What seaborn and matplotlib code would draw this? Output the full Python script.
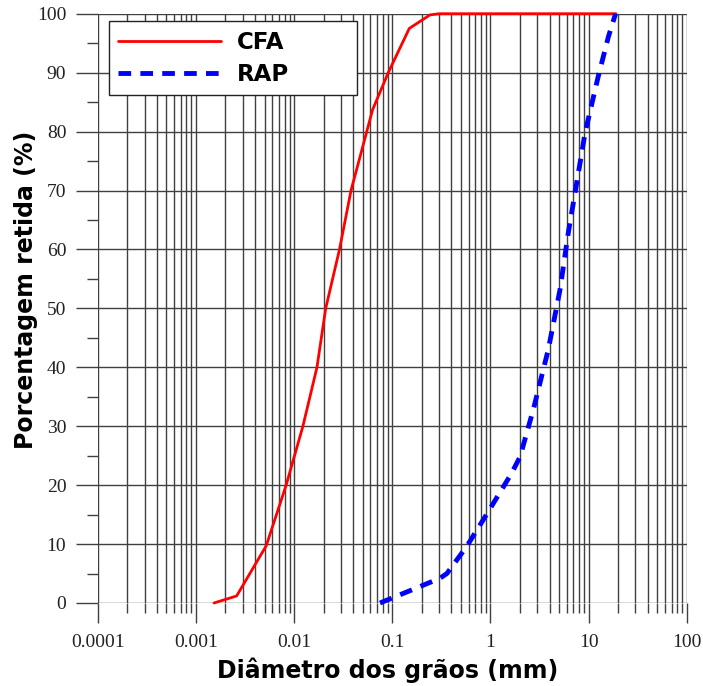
import numpy as np
import pandas as pd
import matplotlib.pyplot as plt
import seaborn as sns
from matplotlib.ticker import FixedLocator, LogLocator, MultipleLocator, NullFormatter

# curvas granulométricas (diâmetro em mm, % retida)
cfa_d = [0.00153, 0.0026, 0.0052, 0.0083, 0.0123, 0.0171, 0.021, 0.029, 0.038, 0.063, 0.091, 0.149, 0.242, 0.30, 19.0]
cfa_p = [0.0, 1.2, 9.7, 20.0, 30.0, 40.0, 50.0, 60.0, 70.0, 83.7, 90.0, 97.5, 99.8, 100.0, 100.0]

rap_d = [0.075, 0.120, 0.192, 0.306, 0.36, 0.573, 0.95, 1.64, 2.0, 2.73, 3.88, 5.1, 6.2, 7.65, 9.2, 12.5, 15.9, 18.8]
rap_p = [0.0, 1.4, 2.8, 4.2, 5.0, 9.6, 15.5, 22.0, 24.8, 32.8, 43.0, 53.1, 62.8, 71.8, 79.8, 89.3, 96.1, 100.0]

x_ticks = [0.0001, 0.001, 0.01, 0.1, 1, 10, 100]
x_tick_labels = ['0.0001', '0.001', '0.01', '0.1', '1', '10', '100']
y_ticks = list(range(0, 101, 10))

sns.set_style('white')
plt.rcParams['font.family'] = ['DejaVu Sans']
plt.rcParams['text.color'] = 'black'
plt.rcParams['axes.labelcolor'] = 'black'
plt.rcParams['xtick.labelcolor'] = '#222222'
plt.rcParams['ytick.labelcolor'] = '#222222'

fig = plt.figure(figsize=(7.03, 6.86), dpi=100)
ax = fig.add_axes([0.139, 0.121, 0.838, 0.859])

sns.lineplot(x=cfa_d, y=cfa_p, color='#ff0000', lw=2.0, label='CFA', ax=ax, clip_on=False)
sns.lineplot(x=rap_d, y=rap_p, color='#0000ff', lw=3.5, label='RAP', ax=ax, clip_on=False,
             dashes=False)
ax.lines[1].set_dashes([2.6, 1.9])

ax.set_xscale('log')
ax.set_xlim(1e-4, 100)
ax.set_ylim(0, 100)

ax.xaxis.set_major_locator(FixedLocator(x_ticks))
ax.set_xticklabels(x_tick_labels)
ax.xaxis.set_minor_locator(LogLocator(base=10, subs=np.arange(2, 10), numticks=20))
ax.xaxis.set_minor_formatter(NullFormatter())
ax.set_yticks(y_ticks)
ax.yaxis.set_minor_locator(MultipleLocator(5))

grid_c = '#404040'
ax.grid(which='both', axis='x', color=grid_c, lw=1)
ax.grid(which='major', axis='y', color=grid_c, lw=1)
for s in ax.spines.values():
    s.set_visible(False)

ax.tick_params(axis='x', which='major', length=14.4, width=1, color=grid_c, pad=8, bottom=True)
ax.tick_params(axis='x', which='minor', length=7, width=1, color=grid_c, bottom=True)
ax.tick_params(axis='y', which='major', length=15.6, width=1, color=grid_c, pad=7, left=True)
ax.tick_params(axis='y', which='minor', length=7.7, width=1, color=grid_c, left=True)
for lab in ax.get_xticklabels() + ax.get_yticklabels():
    lab.set_fontfamily('Liberation Serif')
    lab.set_fontsize(14)

ax.set_xlabel('Diâmetro dos grãos (mm)', fontsize=17, fontweight='bold')
ax.set_ylabel('Porcentagem retida (%)', fontsize=17, fontweight='bold')
ax.xaxis.set_label_coords(0.492, -0.092)
ax.yaxis.set_label_coords(-0.101, 0.531)

leg = ax.legend(loc='upper left', bbox_to_anchor=(0.019, 0.987, 0.421, 0.0), borderaxespad=0,
                mode='expand', handlelength=4.5, handletextpad=0.7, frameon=True, fancybox=False,
                framealpha=1, prop={'weight': 'bold', 'size': 16.5}, borderpad=0.4,
                labelspacing=0.42)
leg.get_frame().set_edgecolor('#222222')
leg.get_frame().set_linewidth(1)

fig.savefig('out.png', dpi=100)
